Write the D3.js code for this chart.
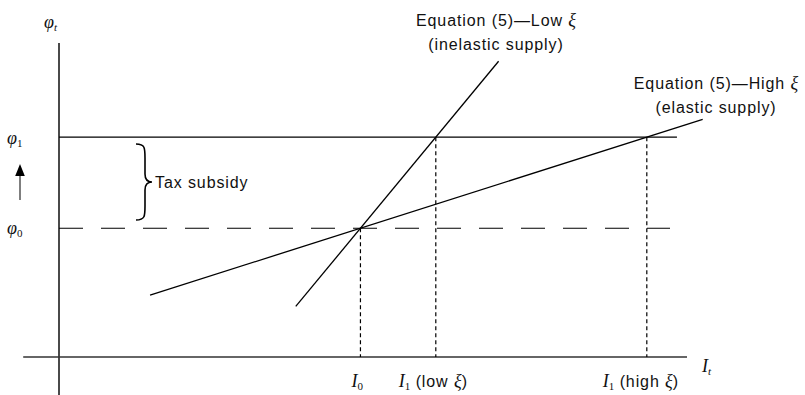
<!DOCTYPE html>
<html>
<head>
<meta charset="utf-8">
<script src="https://cdn.jsdelivr.net/npm/d3@7"></script>
<style>
  body { margin: 0; background: #fff; }
  svg { display: block; }
  text { font-family: "Liberation Sans", Arial, sans-serif; font-size: 16px; letter-spacing: 0.9px; fill: #111; }
  .it { font-family: "Liberation Serif", "Times New Roman", serif; font-style: italic; font-size: 18px; letter-spacing: 0; }
  .sub { font-family: "Liberation Serif", "Times New Roman", serif; font-size: 11px; letter-spacing: 0; }
  .sub.ital { font-style: italic; }
</style>
</head>
<body>
<div id="chart"></div>
<script>
// abstract units: origin of the axes is (0, 0)
const investLevels = [48, 60, 93.6]          // I0, I1 (low xi), I1 (high xi)
const priceLevels = [41, 70]                 // phi0, phi1
const lowXi = [[37.7, 16.1], [70, 94.2]]     // inelastic supply
const highXi = [[14.5, 19.7], [102.5, 75.7]] // elastic supply

const W = 805, H = 395
const svg = d3.select('#chart').append('svg')
    .attr('width', W).attr('height', H)

const x = d3.scaleLinear().domain([0, 100]).range([59, 687])
const y = d3.scaleLinear().domain([0, 100]).range([357, 43])

// axes
svg.append('line')
    .attr('x1', x(0)).attr('x2', x(0))
    .attr('y1', y(100)).attr('y2', H)
    .attr('stroke', '#4a4a4a').attr('stroke-width', 2)
svg.append('line')
    .attr('x1', x(-5.7)).attr('x2', x(100))
    .attr('y1', y(0)).attr('y2', y(0))
    .attr('stroke', '#333').attr('stroke-width', 1.6)

// phi1 solid, phi0 dashed
svg.append('line')
    .attr('x1', x(0)).attr('x2', x(98.4))
    .attr('y1', y(priceLevels[1])).attr('y2', y(priceLevels[1]))
    .attr('stroke', '#000').attr('stroke-width', 1.2)
svg.append('line')
    .attr('x1', x(0)).attr('x2', x(97.3))
    .attr('y1', y(priceLevels[0])).attr('y2', y(priceLevels[0]))
    .attr('stroke', '#000').attr('stroke-width', 1.2)
    .attr('stroke-dasharray', '24 18')

// dotted drop lines
const dropTops = [priceLevels[0], priceLevels[1], priceLevels[1]]
investLevels.forEach((v, i) => {
    svg.append('line')
        .attr('x1', x(v)).attr('x2', x(v))
        .attr('y1', y(dropTops[i])).attr('y2', y(0))
        .attr('stroke', '#000').attr('stroke-width', 1.2)
        .attr('stroke-dasharray', '4 3')
})

// supply curves
const line = d3.line().x(d => x(d[0])).y(d => y(d[1]))
;[lowXi, highXi].forEach(pts => {
    svg.append('path').attr('d', line(pts))
        .attr('fill', 'none').attr('stroke', '#000').attr('stroke-width', 1.3)
})

// axis labels
function subLabel(px, py, main, sub, rest) {
    const t = svg.append('text').attr('x', px).attr('y', py)
    t.append('tspan').attr('class', 'it').text(main)
    t.append('tspan').attr('class', sub === 't' ? 'sub ital' : 'sub').attr('dy', 3).text(sub)
    if (rest) {
        t.append('tspan').attr('dy', -3).text(' (' + rest + ' ')
        t.append('tspan').attr('class', 'it').text('ξ')
        t.append('tspan').text(')')
    }
    return t
}
subLabel(44, 28, 'φ', 't')
subLabel(7, 144, 'φ', '1')
subLabel(7, 234, 'φ', '0')
subLabel(x(100) + 15, 372, 'I', 't')
subLabel(x(investLevels[0]) - 9, 387, 'I', '0')
subLabel(x(investLevels[1]) - 37, 387, 'I', '1', 'low')
subLabel(x(investLevels[2]) - 44, 387, 'I', '1', 'high')

// arrow phi0 -> phi1
svg.append('defs').append('marker')
    .attr('id', 'tip').attr('viewBox', '0 0 10 10')
    .attr('refX', 5).attr('refY', 5)
    .attr('markerWidth', 8).attr('markerHeight', 10)
    .attr('orient', 'auto')
    .append('path').attr('d', 'M0,1 L10,5 L0,9 Z').attr('fill', '#000')
svg.append('line')
    .attr('x1', 20).attr('x2', 20).attr('y1', 200).attr('y2', 170)
    .attr('stroke', '#555').attr('stroke-width', 1.5)
    .attr('marker-end', 'url(#tip)')

// brace for the subsidy
const bx = 136, bt = 144, bb = 220, bm = (bt + bb) / 2
svg.append('path')
    .attr('d', `M${bx},${bt} C${bx + 9},${bt} ${bx + 9},${bt + 4} ${bx + 9},${bt + 14}
                L${bx + 9},${bm - 8} C${bx + 9},${bm - 2} ${bx + 12},${bm} ${bx + 16},${bm}
                C${bx + 12},${bm} ${bx + 9},${bm + 2} ${bx + 9},${bm + 8}
                L${bx + 9},${bb - 14} C${bx + 9},${bb - 4} ${bx + 9},${bb} ${bx},${bb}`)
    .attr('fill', 'none').attr('stroke', '#000').attr('stroke-width', 1.6)
svg.append('text').attr('x', 155).attr('y', bm + 6).text('Tax subsidy')

// curve captions
const captions = [
    { cx: 496, cy: 26, lines: ['Equation (5)—Low ', '(inelastic supply)'] },
    { cx: 716, cy: 89, lines: ['Equation (5)—High ', '(elastic supply)'] }
]
captions.forEach(c => {
    const t = svg.append('text').attr('x', c.cx).attr('y', c.cy).attr('text-anchor', 'middle')
    t.append('tspan').text(c.lines[0])
    t.append('tspan').attr('class', 'it').text('ξ')
    svg.append('text').attr('x', c.cx).attr('y', c.cy + 24)
        .attr('text-anchor', 'middle').text(c.lines[1])
})
</script>
</body>
</html>
